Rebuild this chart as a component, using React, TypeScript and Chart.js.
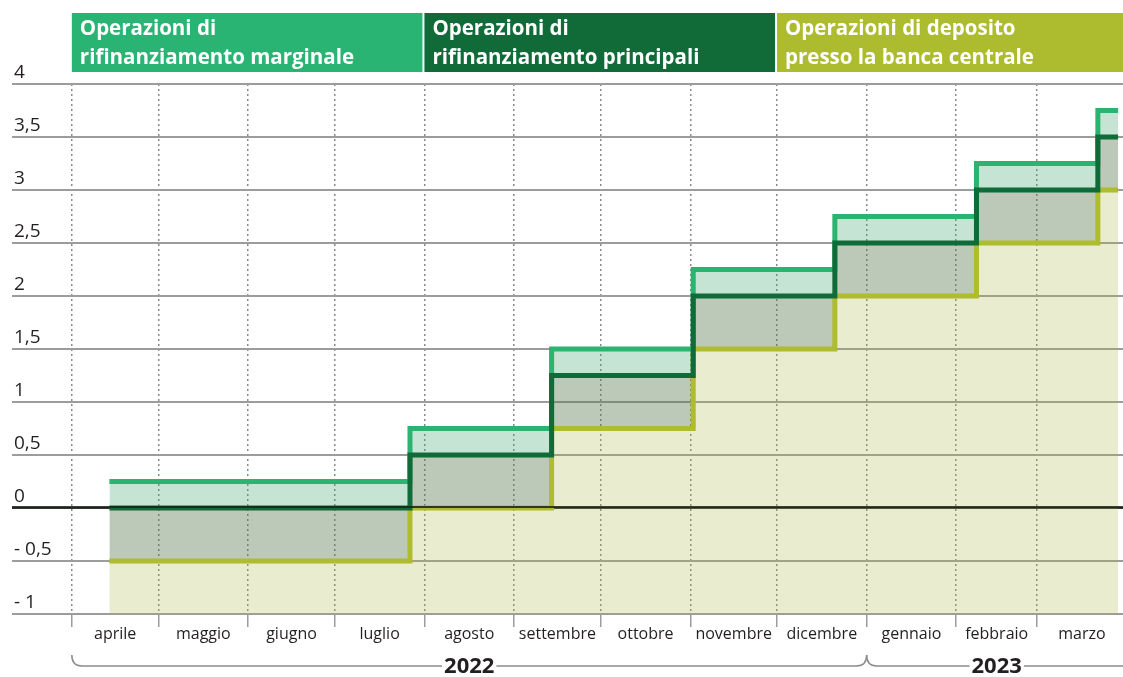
import React, { useEffect, useRef } from 'react';
import { Chart, registerables } from 'chart.js';

Chart.register(...registerables);

// ---------- data ----------
const changeDates = ['2022-04-14', '2022-07-27', '2022-09-14', '2022-11-02', '2022-12-21', '2023-02-08', '2023-03-22', '2023-03-29'];
const marginalRate = [0.25, 0.75, 1.5, 2.25, 2.75, 3.25, 3.75, 3.75];
const mainRate = [0, 0.5, 1.25, 2, 2.5, 3, 3.5, 3.5];
const depositRate = [-0.5, 0, 0.75, 1.5, 2, 2.5, 3, 3];

const monthLabels = ['aprile', 'maggio', 'giugno', 'luglio', 'agosto', 'settembre', 'ottobre', 'novembre', 'dicembre', 'gennaio', 'febbraio', 'marzo'];
const monthStarts = ['2022-04-01', '2022-05-01', '2022-06-01', '2022-07-01', '2022-08-01', '2022-09-01', '2022-10-01', '2022-11-01', '2022-12-01', '2023-01-01', '2023-02-01', '2023-03-01', '2023-04-01'];
const yearLabels = ['2022', '2023'];
const yearStarts = ['2022-04-01', '2023-01-01', '2023-04-01'];
const yTickValues = [-1, -0.5, 0, 0.5, 1, 1.5, 2, 2.5, 3, 3.5, 4];

const headerLines = [
  ['Operazioni di', 'rifinanziamento marginale'],
  ['Operazioni di', 'rifinanziamento principali'],
  ['Operazioni di deposito', 'presso la banca centrale'],
];
const headerStarts = ['2022-04-01', '2022-08-01', '2022-12-01'];

// ---------- helpers ----------
const BASE = Date.UTC(2022, 3, 1);
const dayOf = (iso: string) => {
  const [y, m, d] = iso.split('-').map(Number);
  return (Date.UTC(y, m - 1, d) - BASE) / 86400000;
};

const COLORS = {
  marginal: '#2bb371',
  main: '#0f6b38',
  deposit: '#aebc2e',
  marginalFill: 'rgba(62,165,108,0.30)',
  mainFill: 'rgba(88,120,78,0.40)',
  depositFill: 'rgba(167,179,63,0.25)',
  headerBg: ['#2ab473', '#106b39', '#adbc2f'],
  grid: '#9c9c9c',
  text: '#231f20',
};

const FONT = '"Open Sans", "Noto Sans", sans-serif';

const boundaryDays = monthStarts.map(dayOf);
const midDays = monthLabels.map((_, i) => (boundaryDays[i] + boundaryDays[i + 1]) / 2);
const gridDays = boundaryDays.slice(0, 12);
const xTickValues = [...gridDays, ...midDays].sort((a, b) => a - b);
const isBoundary = (v: number | undefined) => v !== undefined && gridDays.some((b) => Math.abs(b - v) < 1e-6);

const toPoints = (vals: number[]) => changeDates.map((d, i) => ({ x: dayOf(d), y: vals[i] }));

const fmtY = (v: number) => {
  const s = String(Math.abs(v)).replace('.', ',');
  return v < 0 ? '- ' + s : s;
};

const overlayPlugin = {
  id: 'overlay',
  afterDatasetsDraw(chart: any) {
    const { ctx, chartArea, scales } = chart;
    const y0 = scales.y.getPixelForValue(0);
    ctx.save();
    ctx.strokeStyle = 'rgba(25,35,25,0.85)';
    ctx.lineWidth = 2;
    ctx.beginPath();
    ctx.moveTo(chartArea.left, y0 - 1);
    ctx.lineTo(chartArea.right, y0 - 1);
    ctx.stroke();
    ctx.restore();
  },
  afterDraw(chart: any) {
    const { ctx, chartArea, scales } = chart;
    const xs = scales.x;
    ctx.save();
    // header boxes
    const starts = headerStarts.map((d) => xs.getPixelForValue(dayOf(d)));
    const ends = [starts[1] - 2, starts[2] - 2, chartArea.right];
    const top = 13;
    const bottom = 72;
    headerLines.forEach((lines, i) => {
      ctx.fillStyle = COLORS.headerBg[i];
      ctx.fillRect(starts[i], top, ends[i] - starts[i], bottom - top);
      ctx.fillStyle = '#ffffff';
      ctx.font = `bold 20.5px ${FONT}`;
      ctx.textAlign = 'left';
      ctx.textBaseline = 'middle';
      lines.forEach((t, j) => ctx.fillText(t, starts[i] + 8, 29 + j * 29));
    });

    // year braces
    const ys = yearStarts.map((d) => xs.getPixelForValue(dayOf(d)));
    const lineY = 666;
    const curlY = 655;
    const r = 10;
    ctx.strokeStyle = '#8c8c8c';
    ctx.lineWidth = 1.5;
    ctx.font = `bold 22px ${FONT}`;
    ctx.textAlign = 'center';
    ctx.textBaseline = 'middle';
    yearLabels.forEach((lbl, i) => {
      const x1 = ys[i];
      const x2 = ys[i + 1];
      const cx = (x1 + x2) / 2;
      const tw = ctx.measureText(lbl).width / 2 + 2;
      ctx.beginPath();
      ctx.moveTo(x1, curlY);
      ctx.quadraticCurveTo(x1, lineY, x1 + r, lineY);
      ctx.lineTo(cx - tw, lineY);
      ctx.moveTo(cx + tw, lineY);
      if (i === 0) {
        ctx.lineTo(x2 - r, lineY);
        ctx.quadraticCurveTo(x2, lineY, x2, curlY);
      } else {
        ctx.lineTo(x2, lineY);
      }
      ctx.stroke();
      ctx.fillStyle = COLORS.text;
      ctx.fillText(lbl, cx, lineY + 1);
    });
    ctx.restore();
  },
};

export default function App() {
  const ref = useRef<HTMLCanvasElement | null>(null);
  useEffect(() => {
    if (!ref.current) return;
    const chart = new Chart(ref.current, {
      type: 'line',
      data: {
        datasets: [
          {
            label: 'Operazioni di rifinanziamento marginale',
            data: toPoints(marginalRate),
            borderColor: COLORS.marginal,
            backgroundColor: COLORS.marginalFill,
            fill: 1,
            order: 1,
          },
          {
            label: 'Operazioni di rifinanziamento principali',
            data: toPoints(mainRate),
            borderColor: COLORS.main,
            backgroundColor: COLORS.mainFill,
            fill: 2,
            order: 0,
          },
          {
            label: 'Operazioni di deposito presso la banca centrale',
            data: toPoints(depositRate),
            borderColor: COLORS.deposit,
            backgroundColor: COLORS.depositFill,
            fill: 'start',
            order: 2,
          },
        ].map((d) => ({
          ...d,
          stepped: true,
          borderWidth: 5,
          pointRadius: 0,
          pointHoverRadius: 0,
          borderCapStyle: 'butt',
          borderJoinStyle: 'miter',
          tension: 0,
        })) as any,
      },
      options: {
        animation: false,
        responsive: false,
        devicePixelRatio: 1,
        layout: { padding: { left: 8, right: 0, top: 84, bottom: 0 } },
        plugins: {
          legend: { display: false },
          tooltip: { enabled: false },
          filler: { drawTime: 'beforeDatasetsDraw', propagate: false },
        },
        scales: {
          x: {
            type: 'linear',
            min: -20.7,
            max: 363.7,
            afterBuildTicks: (scale: any) => {
              scale.ticks = xTickValues.map((v) => ({ value: v }));
            },
            afterFit: (scale: any) => {
              scale.height = 63;
            },
            border: { display: false, dash: [2, 3] },
            grid: {
              color: (c: any) => (isBoundary(c.tick?.value) ? '#8a8a8a' : 'rgba(0,0,0,0)'),
              tickColor: (c: any) => (isBoundary(c.tick?.value) ? COLORS.grid : 'rgba(0,0,0,0)'),
              lineWidth: 1.5,
              borderDash: [2, 3],
              tickBorderDash: [],
              tickLength: 13,
              drawTicks: true,
            },
            ticks: {
              autoSkip: false,
              maxRotation: 0,
              minRotation: 0,
              padding: -2,
              color: COLORS.text,
              font: { family: FONT, size: 16 },
              callback: (v: any) => {
                const i = midDays.findIndex((m) => Math.abs(m - v) < 1e-6);
                return i >= 0 ? monthLabels[i] : '';
              },
            },
          },
          y: {
            type: 'linear',
            min: -1,
            max: 4,
            afterBuildTicks: (scale: any) => {
              scale.ticks = yTickValues.map((v) => ({ value: v }));
            },
            border: { display: false },
            grid: {
              color: (c: any) => (c.tick?.value === 0 ? '#333333' : COLORS.grid),
              lineWidth: 2,
              drawTicks: false,
            },
            ticks: {
              mirror: true,
              padding: 2,
              labelOffset: -11,
              color: COLORS.text,
              font: { family: FONT, size: 19 },
              callback: (v: any) => fmtY(Number(v)),
            },
          },
        },
      } as any,
      plugins: [overlayPlugin],
    });
    return () => chart.destroy();
  }, []);

  return (
    <div style={{ position: 'absolute', left: 0, top: 0, width: 1123, height: 677, background: '#fff' }}>
      <canvas ref={ref} width={1123} height={677} style={{ display: 'block' }} />
    </div>
  );
}
